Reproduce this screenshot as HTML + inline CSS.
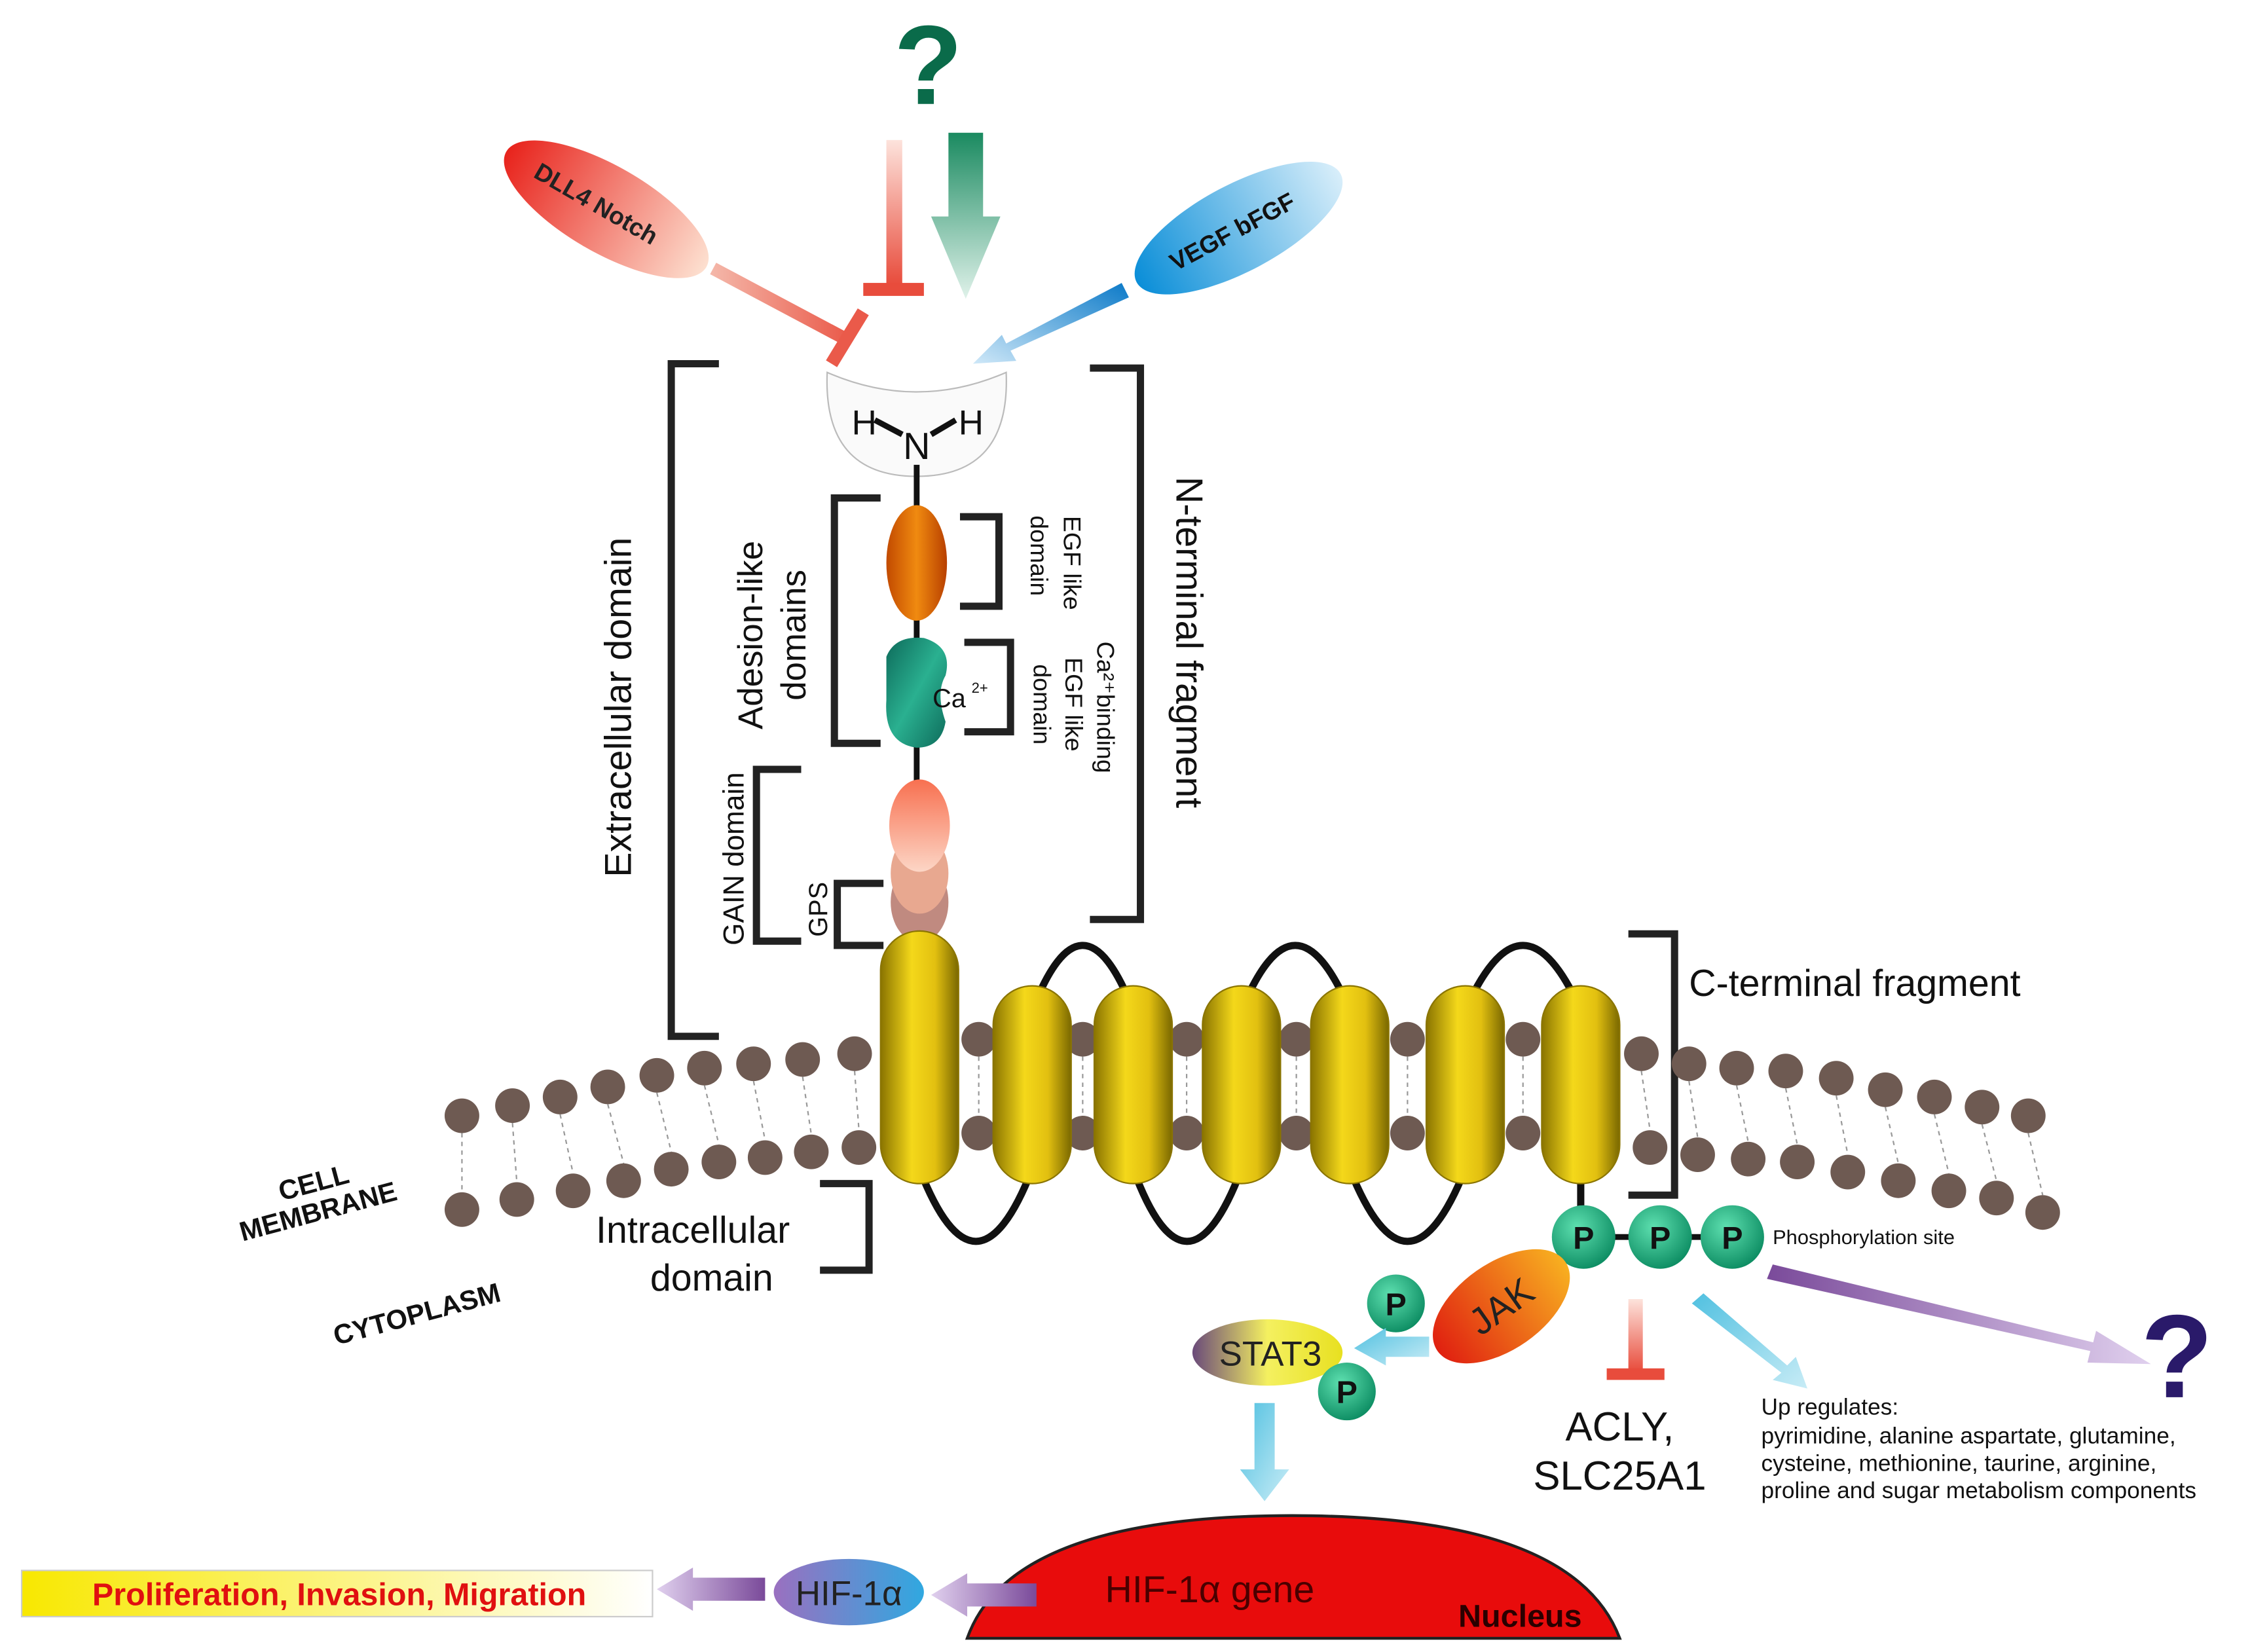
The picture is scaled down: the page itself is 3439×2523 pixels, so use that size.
<!DOCTYPE html>
<html><head><meta charset="utf-8"><style>html,body{margin:0;padding:0;background:#fff}svg{display:block}text{font-family:"Liberation Sans",sans-serif}</style></head><body>
<svg width="3439" height="2523" viewBox="0 0 1560 1144.5" preserveAspectRatio="none" xmlns="http://www.w3.org/2000/svg">
<defs>
<linearGradient id="redg" x1="0" y1="0" x2="1" y2="0"><stop offset="0" stop-color="#e8231c"/><stop offset="1" stop-color="#fde0d0"/></linearGradient>
<linearGradient id="blueg" x1="0" y1="0" x2="1" y2="0"><stop offset="0" stop-color="#0a8ed8"/><stop offset="1" stop-color="#d8eefa"/></linearGradient>
<linearGradient id="inh" x1="0" y1="0" x2="0" y2="1"><stop offset="0" stop-color="#fde3dc"/><stop offset="1" stop-color="#e84c3c"/></linearGradient>
<linearGradient id="inh2" x1="0" y1="0" x2="1" y2="0"><stop offset="0" stop-color="#f4b6a8"/><stop offset="1" stop-color="#ea5a4a"/></linearGradient>
<linearGradient id="grn" x1="0" y1="0" x2="0" y2="1"><stop offset="0" stop-color="#1a8a60"/><stop offset="1" stop-color="#e0f2ea"/></linearGradient>
<linearGradient id="blu2" x1="1" y1="0" x2="0" y2="1"><stop offset="0" stop-color="#0c7ac8"/><stop offset="1" stop-color="#cfe8f8"/></linearGradient>
<linearGradient id="yel" x1="0" y1="0" x2="1" y2="0"><stop offset="0" stop-color="#8a7400"/><stop offset="0.4" stop-color="#f4d81a"/><stop offset="0.7" stop-color="#e2c010"/><stop offset="1" stop-color="#7a6800"/></linearGradient>
<linearGradient id="org" x1="0" y1="0" x2="1" y2="0"><stop offset="0" stop-color="#c24a00"/><stop offset="0.5" stop-color="#f08a10"/><stop offset="1" stop-color="#b84000"/></linearGradient>
<linearGradient id="teal" x1="0" y1="0" x2="1" y2="1"><stop offset="0" stop-color="#0d6a5a"/><stop offset="0.5" stop-color="#2ab090"/><stop offset="1" stop-color="#0d6a5a"/></linearGradient>
<linearGradient id="salm" x1="0" y1="0" x2="0" y2="1"><stop offset="0" stop-color="#f87050"/><stop offset="1" stop-color="#fcd6c6"/></linearGradient>
<linearGradient id="jak" x1="0" y1="0" x2="1" y2="0"><stop offset="0" stop-color="#e02010"/><stop offset="1" stop-color="#f8b020"/></linearGradient>
<linearGradient id="stat" x1="0" y1="0" x2="1" y2="0"><stop offset="0" stop-color="#6a4a7a"/><stop offset="0.5" stop-color="#f4f060"/><stop offset="1" stop-color="#e8e020"/></linearGradient>
<linearGradient id="hif" x1="0" y1="0" x2="1" y2="0"><stop offset="0" stop-color="#9a70c0"/><stop offset="1" stop-color="#30a8e0"/></linearGradient>
<linearGradient id="pur" x1="0" y1="0" x2="1" y2="0"><stop offset="0" stop-color="#7a4a9a"/><stop offset="1" stop-color="#e0d0ee"/></linearGradient>
<linearGradient id="purL" x1="1" y1="0" x2="0" y2="0"><stop offset="0" stop-color="#7a4a9a"/><stop offset="1" stop-color="#e0d0ee"/></linearGradient>
<linearGradient id="lb" x1="0" y1="0" x2="1" y2="1"><stop offset="0" stop-color="#50c0e0"/><stop offset="1" stop-color="#c8ecf6"/></linearGradient>
<linearGradient id="ybox" x1="0" y1="0" x2="1" y2="0"><stop offset="0" stop-color="#f8e800"/><stop offset="1" stop-color="#ffffff"/></linearGradient>
<radialGradient id="pg" cx="0.4" cy="0.35" r="0.7"><stop offset="0" stop-color="#5ee0b0"/><stop offset="1" stop-color="#0a8a60"/></radialGradient>
</defs>

<text x="643" y="72" font-size="78" font-weight="bold" fill="#0a6b4a" text-anchor="middle">?</text>
<rect x="614" y="97" width="11" height="100" fill="url(#inh)"/>
<rect x="598" y="196" width="42" height="9" fill="#e84c3c"/>
<polygon points="657,92 681,92 681,150 693,150 669,207 645,150 657,150" fill="url(#grn)"/>

<g transform="translate(420,145) rotate(30)"><ellipse rx="80" ry="30" fill="url(#redg)"/><text x="-8" y="6" font-size="17" font-weight="bold" fill="#222" text-anchor="middle">DLL4 Notch</text></g>
<line x1="494" y1="186" x2="588" y2="236" stroke="url(#inh2)" stroke-width="9"/>
<line x1="576" y1="252" x2="598" y2="216" stroke="#ea5a4a" stroke-width="9"/>

<g transform="translate(858,158) rotate(-28)"><ellipse rx="80" ry="30" fill="url(#blueg)"/><text x="-5" y="6" font-size="17" font-weight="bold" fill="#111" text-anchor="middle">VEGF   bFGF</text></g>
<polygon points="777,196 782,206 700,243 704,250 674,252 694,232 697,238" fill="url(#blu2)"/>

<path d="M573,258 Q635,285 697,258 Q700,330 635,330 Q570,330 573,258 Z" fill="#fafafa" stroke="#bbb" stroke-width="1"/>
<text x="635" y="318" font-size="26" text-anchor="middle" fill="#111">N</text>
<text x="590" y="301" font-size="24" fill="#111">H</text>
<text x="664" y="301" font-size="24" fill="#111">H</text>
<line x1="606" y1="291" x2="625" y2="301" stroke="#111" stroke-width="4"/>
<line x1="645" y1="301" x2="662" y2="291" stroke="#111" stroke-width="4"/>

<line x1="635" y1="322" x2="635" y2="690" stroke="#111" stroke-width="4"/>

<g fill="none" stroke="#222" stroke-width="5">
<path d="M498,252 H465 V718 H498"/>
<path d="M755,255 H790 V637 H755"/>
<path d="M610,345 H578 V515 H610"/>
<path d="M665,358 H692 V420 H665"/>
<path d="M668,445 H700 V507 H668"/>
<path d="M555,533 H524 V652 H555"/>
<path d="M612,612 H580 V655 H612"/>
<path d="M1128,647 H1160 V828 H1128"/>
<path d="M568,820 H602 V880 H568"/>
</g>
<text transform="translate(437,490) rotate(-90)" font-size="26" text-anchor="middle" fill="#111">Extracellular domain</text>
<text transform="translate(815,445) rotate(90)" font-size="26" text-anchor="middle" fill="#111">N-terminal fragment</text>
<text transform="translate(528,440) rotate(-90)" font-size="24" text-anchor="middle" fill="#111">Adesion-like</text>
<text transform="translate(558,440) rotate(-90)" font-size="24" text-anchor="middle" fill="#111">domains</text>
<text transform="translate(737,390) rotate(90)" font-size="17" text-anchor="middle" fill="#111">EGF like</text>
<text transform="translate(714,385) rotate(90)" font-size="17" text-anchor="middle" fill="#111">domain</text>
<text transform="translate(760,490) rotate(90)" font-size="17" text-anchor="middle" fill="#111">Ca²⁺binding</text>
<text transform="translate(738,488) rotate(90)" font-size="17" text-anchor="middle" fill="#111">EGF like</text>
<text transform="translate(716,488) rotate(90)" font-size="17" text-anchor="middle" fill="#111">domain</text>
<text transform="translate(515,595) rotate(-90)" font-size="20" text-anchor="middle" fill="#111">GAIN domain</text>
<text transform="translate(573,630) rotate(-90)" font-size="18" text-anchor="middle" fill="#111">GPS</text>

<ellipse cx="635" cy="390" rx="21" ry="40" fill="url(#org)"/>
<path d="M614,455 Q620,440 640,442 Q660,448 655,468 Q648,480 655,500 Q652,518 635,518 Q612,515 614,485 Z" fill="url(#teal)"/>
<text x="646" y="490" font-size="18" fill="#111">Ca</text><text x="673" y="480" font-size="10" fill="#111">2+</text>
<ellipse cx="637" cy="625" rx="20" ry="28" fill="#c08a80"/>
<ellipse cx="637" cy="605" rx="20" ry="28" fill="#e8a890"/>
<ellipse cx="637" cy="572" rx="21" ry="32" fill="url(#salm)"/>

<!-- lipid tails -->
<g stroke="#999" stroke-width="1" stroke-dasharray="3,3">
<line x1="320" y1="785" x2="320" y2="826"/><line x1="355" y1="778" x2="358" y2="819"/><line x1="388" y1="772" x2="397" y2="813"/><line x1="421" y1="765" x2="432" y2="806"/><line x1="455" y1="757" x2="465" y2="798"/><line x1="488" y1="752" x2="498" y2="793"/><line x1="522" y1="749" x2="530" y2="790"/><line x1="556" y1="746" x2="562" y2="786"/><line x1="592" y1="742" x2="595" y2="783"/>
<line x1="678" y1="732" x2="678" y2="773"/><line x1="750" y1="732" x2="750" y2="773"/><line x1="822" y1="732" x2="822" y2="773"/><line x1="898" y1="732" x2="898" y2="773"/><line x1="975" y1="732" x2="975" y2="773"/><line x1="1055" y1="732" x2="1055" y2="773"/>
<line x1="1137" y1="742" x2="1143" y2="783"/><line x1="1170" y1="749" x2="1176" y2="788"/><line x1="1203" y1="752" x2="1211" y2="791"/><line x1="1237" y1="754" x2="1245" y2="793"/><line x1="1272" y1="759" x2="1280" y2="800"/><line x1="1306" y1="767" x2="1315" y2="806"/><line x1="1340" y1="772" x2="1350" y2="813"/><line x1="1373" y1="779" x2="1383" y2="818"/><line x1="1405" y1="785" x2="1415" y2="828"/>
</g>
<g fill="#6e5a52">
<circle cx="320" cy="773" r="12"/><circle cx="355" cy="766" r="12"/><circle cx="388" cy="760" r="12"/><circle cx="421" cy="753" r="12"/><circle cx="455" cy="745" r="12"/><circle cx="488" cy="740" r="12"/><circle cx="522" cy="737" r="12"/><circle cx="556" cy="734" r="12"/><circle cx="592" cy="730" r="12"/>
<circle cx="678" cy="720" r="12"/><circle cx="750" cy="720" r="12"/><circle cx="822" cy="720" r="12"/><circle cx="898" cy="720" r="12"/><circle cx="975" cy="720" r="12"/><circle cx="1055" cy="720" r="12"/>
<circle cx="1137" cy="730" r="12"/><circle cx="1170" cy="737" r="12"/><circle cx="1203" cy="740" r="12"/><circle cx="1237" cy="742" r="12"/><circle cx="1272" cy="747" r="12"/><circle cx="1306" cy="755" r="12"/><circle cx="1340" cy="760" r="12"/><circle cx="1373" cy="767" r="12"/><circle cx="1405" cy="773" r="12"/>
<circle cx="320" cy="838" r="12"/><circle cx="358" cy="831" r="12"/><circle cx="397" cy="825" r="12"/><circle cx="432" cy="818" r="12"/><circle cx="465" cy="810" r="12"/><circle cx="498" cy="805" r="12"/><circle cx="530" cy="802" r="12"/><circle cx="562" cy="798" r="12"/><circle cx="595" cy="795" r="12"/>
<circle cx="678" cy="785" r="12"/><circle cx="750" cy="785" r="12"/><circle cx="822" cy="785" r="12"/><circle cx="898" cy="785" r="12"/><circle cx="975" cy="785" r="12"/><circle cx="1055" cy="785" r="12"/>
<circle cx="1143" cy="795" r="12"/><circle cx="1176" cy="800" r="12"/><circle cx="1211" cy="803" r="12"/><circle cx="1245" cy="805" r="12"/><circle cx="1280" cy="812" r="12"/><circle cx="1315" cy="818" r="12"/><circle cx="1350" cy="825" r="12"/><circle cx="1383" cy="830" r="12"/><circle cx="1415" cy="840" r="12"/>
</g>

<g fill="none" stroke="#111" stroke-width="5">
<path d="M715,700 Q750,610 785,700"/><path d="M860,700 Q897,610 935,700"/><path d="M1015,700 Q1055,610 1095,700"/>
<path d="M637,810 Q676,910 715,810"/><path d="M785,810 Q822,910 860,810"/><path d="M935,810 Q975,910 1015,810"/>
<line x1="1095" y1="815" x2="1095" y2="850"/>
</g>

<g fill="url(#yel)" stroke="#8a7400" stroke-width="1">
<rect x="610" y="645" width="54" height="175" rx="27"/>
<rect x="688" y="683" width="54" height="137" rx="27"/>
<rect x="758" y="683" width="54" height="137" rx="27"/>
<rect x="833" y="683" width="54" height="137" rx="27"/>
<rect x="908" y="683" width="54" height="137" rx="27"/>
<rect x="988" y="683" width="54" height="137" rx="27"/>
<rect x="1068" y="683" width="54" height="137" rx="27"/>
</g>

<text x="1170" y="690" font-size="26" fill="#111">C-terminal fragment</text>
<text transform="translate(195,832) rotate(-15)" font-size="19" font-weight="bold" fill="#111">CELL</text>
<text transform="translate(168,860) rotate(-15)" font-size="19" font-weight="bold" fill="#111">MEMBRANE</text>
<text transform="translate(233,932) rotate(-15)" font-size="19" font-weight="bold" fill="#111">CYTOPLASM</text>
<text x="480" y="861" font-size="26" text-anchor="middle" fill="#111">Intracellular</text>
<text x="493" y="894" font-size="26" text-anchor="middle" fill="#111">domain</text>

<line x1="1097" y1="857" x2="1200" y2="857" stroke="#111" stroke-width="4"/>
<g font-size="22" font-weight="bold" text-anchor="middle" fill="#111">
<circle cx="1097" cy="857" r="22" fill="url(#pg)"/><text x="1097" y="865">P</text>
<circle cx="1150" cy="857" r="22" fill="url(#pg)"/><text x="1150" y="865">P</text>
<circle cx="1200" cy="857" r="22" fill="url(#pg)"/><text x="1200" y="865">P</text>
<circle cx="967" cy="903" r="20" fill="url(#pg)"/><text x="967" y="911">P</text>
</g>
<text x="1228" y="862" font-size="14" fill="#111">Phosphorylation site</text>

<polygon points="1228,876 1450,930 1452,922 1490,945 1446,944 1448,936 1224,886" fill="url(#pur)"/>
<text x="1508" y="968" font-size="82" font-weight="bold" fill="#2a1a6a" text-anchor="middle">?</text>
<polygon points="1172,903 1180,896 1238,946 1244,940 1252,962 1228,956 1234,951" fill="url(#lb)"/>
<rect x="1128" y="900" width="10" height="50" fill="url(#inh)"/>
<rect x="1113" y="948" width="40" height="8" fill="#e84c3c"/>
<text x="1122" y="998" font-size="28" text-anchor="middle" fill="#111">ACLY,</text>
<text x="1122" y="1032" font-size="28" text-anchor="middle" fill="#111">SLC25A1</text>
<g font-size="16" fill="#111">
<text x="1220" y="980">Up regulates:</text>
<text x="1220" y="1000">pyrimidine, alanine aspartate, glutamine,</text>
<text x="1220" y="1019">cysteine, methionine, taurine, arginine,</text>
<text x="1220" y="1038">proline and sugar metabolism components</text>
</g>

<g transform="translate(1040,905) rotate(-35)"><ellipse rx="54" ry="30" fill="url(#jak)"/><text x="0" y="9" font-size="26" text-anchor="middle" fill="#222">JAK</text></g>
<polygon points="990,926 960,926 960,920 938,934 960,946 960,940 990,940" fill="url(#lb)"/>
<ellipse cx="878" cy="937" rx="52" ry="23" fill="url(#stat)"/>
<text x="880" y="946" font-size="24" text-anchor="middle" fill="#222">STAT3</text>
<circle cx="933" cy="964" r="20" fill="url(#pg)"/><text x="933" y="972" font-size="22" font-weight="bold" text-anchor="middle" fill="#111">P</text>
<polygon points="869,972 883,972 883,1018 893,1018 876,1040 859,1018 869,1018" fill="url(#lb)"/>

<path d="M670,1135 Q700,1050 895,1050 Q1090,1050 1122,1135 Z" fill="#e80c0c" stroke="#222" stroke-width="2"/>
<text x="838" y="1110" font-size="26" text-anchor="middle" fill="#4a0000">HIF-1α gene</text>
<text x="1053" y="1127" font-size="22" font-weight="bold" text-anchor="middle" fill="#2a0000">Nucleus</text>
<polygon points="718,1097 670,1097 670,1090 645,1105 670,1120 670,1113 718,1113" fill="url(#purL)"/>
<ellipse cx="588" cy="1103" rx="52" ry="23" fill="url(#hif)"/>
<text x="588" y="1112" font-size="24" text-anchor="middle" fill="#222">HIF-1α</text>
<polygon points="530,1093 480,1093 480,1086 455,1101 480,1116 480,1109 530,1109" fill="url(#purL)"/>
<rect x="15" y="1088" width="437" height="32" fill="url(#ybox)" stroke="#ccc" stroke-width="1"/>
<text x="235" y="1112" font-size="22" font-weight="bold" text-anchor="middle" fill="#e01010">Proliferation, Invasion, Migration</text>
</svg>
</body></html>
